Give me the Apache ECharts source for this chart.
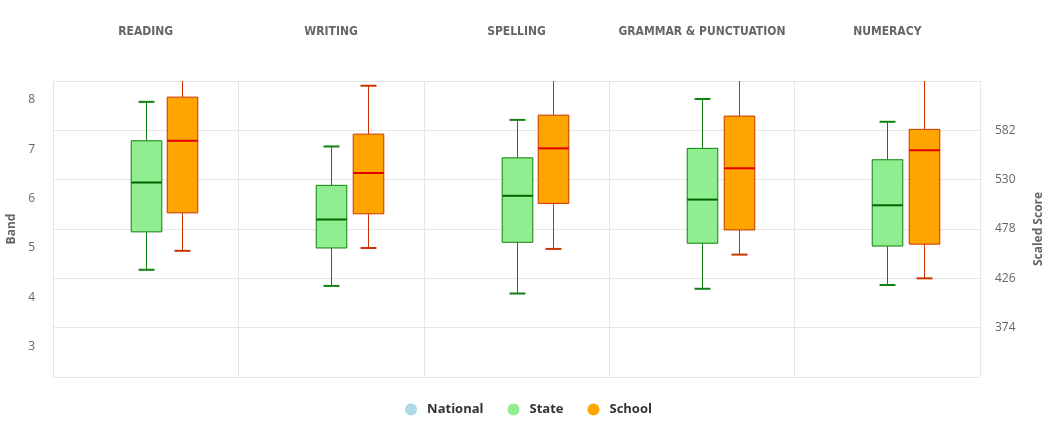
<!DOCTYPE html>
<html>
<head>
<meta charset="utf-8">
<script src="https://cdn.jsdelivr.net/npm/echarts@6/dist/echarts.min.js"></script>
<style>
  html, body { margin: 0; padding: 0; background: #fff; }
  #chart { width: 1057px; height: 445px; }
</style>
</head>
<body>
<div id="chart"></div>
<script>
var categories = ['READING', 'WRITING', 'SPELLING', 'GRAMMAR & PUNCTUATION', 'NUMERACY'];
var bandTicks = [3, 4, 5, 6, 7, 8];
var scoreTicks = [374, 426, 478, 530, 582];
var scoreGrid = [322, 374, 426, 478, 530, 582, 634];

// National has no data in the reference, only a legend entry
var nationalLow = [];
var nationalQ1 = [];
var nationalMedian = [];
var nationalQ3 = [];
var nationalHigh = [];

var stateLow = [435, 418, 410, 415, 419];
var stateQ1 = [475, 458, 464, 463, 460];
var stateMedian = [527, 488, 513, 509, 503];
var stateQ3 = [571, 524, 553, 563, 551];
var stateHigh = [612, 565, 593, 615, 591];

var schoolLow = [455, 458, 457, 451, 426];
var schoolQ1 = [495, 494, 505, 477, 462];
var schoolMedian = [571, 537, 563, 542, 561];
var schoolQ3 = [617, 578, 598, 597, 583];
var schoolHigh = [650, 629, 650, 650, 650];

function toRows(low, q1, med, q3, high) {
  var rows = [];
  for (var i = 0; i < low.length; i++) {
    rows.push([i, low[i], q1[i], med[i], q3[i], high[i]]);
  }
  return rows;
}

function boxRenderer(slot, fill, stroke, medianColor) {
  return function (params, api) {
    var band = api.size([1, 0])[0];
    var cx = api.coord([api.value(0), 0])[0] + slot * band * 0.198;
    var yLow = api.coord([api.value(0), api.value(1)])[1];
    var yQ1 = api.coord([api.value(0), api.value(2)])[1];
    var yMed = api.coord([api.value(0), api.value(3)])[1];
    var yQ3 = api.coord([api.value(0), api.value(4)])[1];
    var yHigh = api.coord([api.value(0), api.value(5)])[1];
    var w = band * 0.165;
    var cap = w * 0.52;
    var x = Math.round(cx) + 0.5;
    return {
      type: 'group',
      children: [
        { type: 'line', shape: { x1: x, y1: yLow, x2: x, y2: yQ1 }, style: { stroke: stroke, lineWidth: 1 } },
        { type: 'line', shape: { x1: x, y1: yQ3, x2: x, y2: yHigh }, style: { stroke: stroke, lineWidth: 1 } },
        { type: 'rect', shape: { x: x - w / 2, y: yQ3, width: w, height: yQ1 - yQ3 }, style: { fill: fill, stroke: stroke, lineWidth: 1 } },
        { type: 'line', shape: { x1: x - w / 2, y1: yMed, x2: x + w / 2, y2: yMed }, style: { stroke: medianColor, lineWidth: 2 } },
        { type: 'line', shape: { x1: x - cap / 2, y1: yLow, x2: x + cap / 2, y2: yLow }, style: { stroke: stroke, lineWidth: 2 } },
        { type: 'line', shape: { x1: x - cap / 2, y1: yHigh, x2: x + cap / 2, y2: yHigh }, style: { stroke: stroke, lineWidth: 2 } }
      ]
    };
  };
}

var chart = echarts.init(document.getElementById('chart'));
chart.setOption({
  animation: false,
  grid: { left: 53, right: 77, top: 81, bottom: 68, containLabel: false, outerBoundsMode: 'none' },
  legend: {
    top: 398,
    left: 'center',
    icon: 'circle',
    itemWidth: 12,
    itemHeight: 12,
    itemGap: 24,
    textStyle: { fontFamily: 'Open Sans', fontWeight: 'bold', fontSize: 13, color: '#333', padding: [0, 0, 0, 5] },
    data: ['National', 'State', 'School']
  },
  xAxis: {
    type: 'category',
    position: 'top',
    data: categories,
    axisLine: { show: false },
    axisTick: { show: false },
    axisLabel: {
      interval: 0,
      margin: 43,
      fontFamily: "'DejaVu Sans Condensed', 'Liberation Sans Narrow', sans-serif",
      fontWeight: 'bold',
      fontSize: 12,
      color: '#666'
    },
    splitLine: { show: true, interval: 0, lineStyle: { color: '#e1e5ef', width: 1 } }
  },
  yAxis: [
    {
      type: 'value',
      name: 'Band',
      nameLocation: 'middle',
      nameGap: 35,
      nameTextStyle: { fontFamily: 'Open Sans', fontWeight: 'bold', fontSize: 12, color: '#666' },
      min: 2.38,
      max: 8.38,
      axisLine: { show: false },
      axisTick: { show: false },
      splitLine: { show: false },
      axisLabel: { customValues: bandTicks, margin: 18, fontFamily: 'Open Sans', fontSize: 12, color: '#666' }
    },
    {
      type: 'value',
      name: 'Scaled Score',
      nameLocation: 'middle',
      nameGap: 53,
      nameTextStyle: { fontFamily: 'Open Sans', fontWeight: 'bold', fontSize: 12, color: '#666' },
      min: 322,
      max: 634,
      axisLine: { show: false },
      axisTick: { show: false, customValues: scoreGrid },
      splitLine: { show: true, lineStyle: { color: '#e6e6e6', width: 1 } },
      axisLabel: { customValues: scoreTicks, margin: 15, fontFamily: 'Open Sans', fontSize: 12, color: '#666' }
    }
  ],
  series: [
    {
      name: 'National',
      type: 'custom',
      yAxisIndex: 1,
      clip: true,
      itemStyle: { color: '#add8e6' },
      encode: { x: 0, y: [1, 2, 3, 4, 5] },
      renderItem: boxRenderer(-1, '#add8e6', '#4682b4', '#4682b4'),
      data: toRows(nationalLow, nationalQ1, nationalMedian, nationalQ3, nationalHigh)
    },
    {
      name: 'State',
      type: 'custom',
      yAxisIndex: 1,
      clip: true,
      itemStyle: { color: '#90ee90' },
      encode: { x: 0, y: [1, 2, 3, 4, 5] },
      renderItem: boxRenderer(0, '#90ee90', '#108010', '#006400'),
      data: toRows(stateLow, stateQ1, stateMedian, stateQ3, stateHigh)
    },
    {
      name: 'School',
      type: 'custom',
      yAxisIndex: 1,
      clip: true,
      itemStyle: { color: '#ffa500' },
      encode: { x: 0, y: [1, 2, 3, 4, 5] },
      renderItem: boxRenderer(1, '#ffa500', '#cc3300', '#e00000'),
      data: toRows(schoolLow, schoolQ1, schoolMedian, schoolQ3, schoolHigh)
    }
  ]
});
</script>
</body>
</html>
